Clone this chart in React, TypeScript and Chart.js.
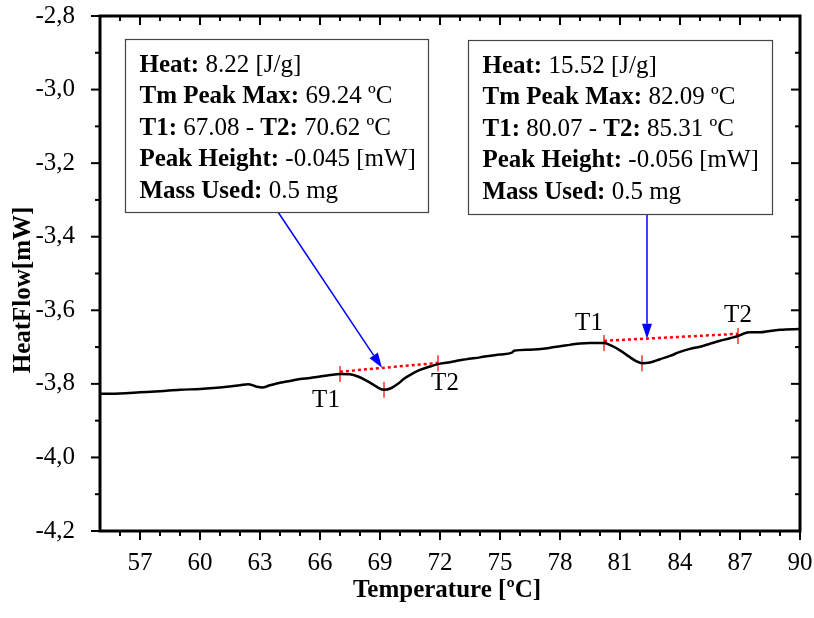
import React, { useEffect, useRef } from 'react';
import { Chart, registerables } from 'chart.js';

Chart.register(...registerables);

// ---------- data ----------
const temperature = [
  55.0, 56.0, 57.0, 58.0, 59.0, 60.0, 61.0, 62.0, 62.4, 62.8, 63.1, 63.5, 64.0, 64.5, 65.0, 65.5,
  66.0, 66.5, 67.0, 67.5, 67.9, 68.25, 68.6, 68.9, 69.2, 69.55, 69.9, 70.2, 70.6, 71.0, 71.5,
  72.0, 72.5, 73.0, 74.0, 75.0, 75.6, 75.7, 76.5, 77.5, 78.0, 78.5, 79.0, 79.5, 80.2, 80.6,
  81.0, 81.4, 81.8, 82.1, 82.5, 83.0, 83.5, 84.0, 84.5, 85.0, 85.5, 86.0, 86.5, 86.9, 87.2,
  87.5, 88.0, 88.5, 89.0, 90.0,
];
const heatFlow = [
  -3.827, -3.826, -3.823, -3.820, -3.816, -3.814, -3.810, -3.804, -3.801, -3.807, -3.810, -3.804,
  -3.797, -3.792, -3.787, -3.784, -3.780, -3.776, -3.773, -3.774, -3.780, -3.789, -3.800, -3.810,
  -3.816, -3.812, -3.800, -3.786, -3.773, -3.762, -3.753, -3.745, -3.741, -3.736, -3.728, -3.720,
  -3.715, -3.710, -3.707, -3.702, -3.698, -3.694, -3.690, -3.689, -3.689, -3.697, -3.709, -3.724,
  -3.738, -3.744, -3.742, -3.733, -3.724, -3.713, -3.705, -3.699, -3.691, -3.683, -3.676, -3.670,
  -3.663, -3.660, -3.660, -3.656, -3.653, -3.651,
];

const xTicks = [57, 60, 63, 66, 69, 72, 75, 78, 81, 84, 87, 90];
const yTicks = [-4.2, -4.0, -3.8, -3.6, -3.4, -3.2, -3.0, -2.8];

// peak markers (T1, peak, T2) on the curve
const markerT = [67.0, 69.2, 71.9, 80.2, 82.1, 86.9];
const markerHF = [-3.773, -3.816, -3.744, -3.689, -3.744, -3.670];

// integration baselines (T1 -> T2)
const baseline1T = [67.0, 71.9];
const baseline1HF = [-3.767, -3.743];
const baseline2T = [80.2, 86.9];
const baseline2HF = [-3.683, -3.664];

// arrow tips / starts (data coords)
const arrowTipT = [69.1, 82.35];
const arrowTipHF = [-3.7565, -3.6777];
const arrowStartT = [63.9, 82.35];

// annotation texts (segments alternate bold / normal)
const box1Lines = [
  ['Heat:', ' 8.22 [J/g]'],
  ['Tm Peak Max:', ' 69.24 ºC'],
  ['T1:', ' 67.08 - ', 'T2:', ' 70.62 ºC'],
  ['Peak Height:', ' -0.045 [mW]'],
  ['Mass Used:', ' 0.5 mg'],
];
const box2Lines = [
  ['Heat:', ' 15.52 [J/g]'],
  ['Tm Peak Max:', ' 82.09 ºC'],
  ['T1:', ' 80.07 - ', 'T2:', ' 85.31 ºC'],
  ['Peak Height:', ' -0.056 [mW]'],
  ['Mass Used:', ' 0.5 mg'],
];

// ---------- styles ----------
const FONT = '"Liberation Serif", "Times New Roman", serif';
const FS = 25;
const boxes = [
  { left: 56.25, top: -2.8625, w: 303, h: 173, lines: box1Lines },
  { left: 73.4, top: -2.8652, w: 304, h: 174, lines: box2Lines },
];
// T labels: [markerIndex, text, dx, dy]
const tLabels: [number, string, number, number][] = [
  [0, 'T1', -14, 27],
  [2, 'T2', 7, 20],
  [3, 'T1', -15, -20],
  [5, 'T2', 0, -21],
];

const decoPlugin = {
  id: 'deco',
  afterDraw(chart: any) {
    const { ctx, chartArea: ca } = chart;
    const x = chart.scales.x;
    const y = chart.scales.y;
    ctx.save();

    // ticks
    ctx.strokeStyle = '#000';
    ctx.lineWidth = 2;
    const major = 9;
    const minor = 5;
    const seg = (x1: number, y1: number, x2: number, y2: number) => {
      ctx.beginPath();
      ctx.moveTo(x1, y1);
      ctx.lineTo(x2, y2);
      ctx.stroke();
    };
    for (let t = 56; t <= 90; t++) {
      const px = x.getPixelForValue(t);
      const len = xTicks.includes(t) ? major : minor;
      seg(px, ca.bottom, px, ca.bottom + len);
      seg(px, ca.top, px, ca.top + len);
    }
    for (let k = -42; k <= -28; k++) {
      const py = y.getPixelForValue(k / 10);
      const len = k % 2 === 0 ? major : minor;
      seg(ca.left - len, py, ca.left, py);
      seg(ca.right - len, py, ca.right, py);
    }

    // frame
    ctx.lineWidth = 3;
    ctx.strokeRect(ca.left, ca.top, ca.right - ca.left, ca.bottom - ca.top);

    // arrows
    ctx.strokeStyle = '#0000ff';
    ctx.fillStyle = '#0000ff';
    ctx.lineWidth = 1.5;
    boxes.forEach((b, i) => {
      const sx = x.getPixelForValue(arrowStartT[i]);
      const sy = y.getPixelForValue(b.top) + b.h;
      const tx = x.getPixelForValue(arrowTipT[i]);
      const ty = y.getPixelForValue(arrowTipHF[i]);
      const ang = Math.atan2(ty - sy, tx - sx);
      const hl = 15;
      const hw = 5;
      const bx = tx - hl * Math.cos(ang);
      const by = ty - hl * Math.sin(ang);
      seg(sx, sy, bx, by);
      ctx.beginPath();
      ctx.moveTo(tx, ty);
      ctx.lineTo(bx + hw * Math.sin(ang), by - hw * Math.cos(ang));
      ctx.lineTo(bx - hw * Math.sin(ang), by + hw * Math.cos(ang));
      ctx.closePath();
      ctx.fill();
    });

    // boxes
    boxes.forEach((b) => {
      const bx = Math.round(x.getPixelForValue(b.left)) + 0.5;
      const by = Math.round(y.getPixelForValue(b.top)) + 0.5;
      ctx.fillStyle = '#fff';
      ctx.fillRect(bx, by, b.w, b.h);
      ctx.strokeStyle = '#444';
      ctx.lineWidth = 1.2;
      ctx.strokeRect(bx, by, b.w, b.h);
      ctx.fillStyle = '#000';
      ctx.textBaseline = 'alphabetic';
      ctx.textAlign = 'left';
      b.lines.forEach((segs, li) => {
        let cx = bx + 14;
        const cy = by + 32 + li * 31.6;
        segs.forEach((s, si) => {
          ctx.font = (si % 2 === 0 ? 'bold ' : '') + FS + 'px ' + FONT;
          ctx.fillText(s, cx, cy);
          cx += ctx.measureText(s).width;
        });
      });
    });

    // T labels
    ctx.fillStyle = '#000';
    ctx.font = FS + 'px ' + FONT;
    ctx.textAlign = 'center';
    ctx.textBaseline = 'middle';
    tLabels.forEach(([mi, txt, dx, dy]) => {
      const px = x.getPixelForValue(markerT[mi]);
      const py = y.getPixelForValue(markerHF[mi]);
      ctx.fillText(txt, px + dx, py + dy);
    });

    // axis titles
    ctx.font = 'bold ' + FS + 'px ' + FONT;
    ctx.textAlign = 'center';
    ctx.textBaseline = 'alphabetic';
    ctx.fillText('Temperature [ºC]', 447, 597);
    ctx.save();
    ctx.translate(30, 290);
    ctx.rotate(-Math.PI / 2);
    ctx.fillText('HeatFlow[mW]', 0, 0);
    ctx.restore();

    ctx.restore();
  },
};

export default function App() {
  const ref = useRef<HTMLCanvasElement | null>(null);
  useEffect(() => {
    if (!ref.current) return;
    const chart = new Chart(ref.current, {
      type: 'scatter',
      data: {
        datasets: [
          {
            data: temperature.map((t, i) => ({ x: t, y: heatFlow[i] })),
            showLine: true,
            borderColor: '#000',
            borderWidth: 2.5,
            pointRadius: 0,
            cubicInterpolationMode: 'monotone',
          },
          {
            data: baseline1T.map((t, i) => ({ x: t, y: baseline1HF[i] })),
            showLine: true,
            borderColor: '#ff0000',
            borderWidth: 2.5,
            borderDash: [3, 3],
            pointRadius: 0,
          },
          {
            data: baseline2T.map((t, i) => ({ x: t, y: baseline2HF[i] })),
            showLine: true,
            borderColor: '#ff0000',
            borderWidth: 2.5,
            borderDash: [3, 3],
            pointRadius: 0,
          },
          {
            data: markerT.map((t, i) => ({ x: t, y: markerHF[i] })),
            showLine: false,
            pointStyle: 'line',
            rotation: 90,
            radius: 8,
            borderColor: '#ff2020',
            borderWidth: 1.4,
          },
        ],
      } as any,
      options: {
        animation: false,
        responsive: false,
        events: [],
        layout: { padding: { top: 16, right: 14, left: 0, bottom: 0 } },
        plugins: { legend: { display: false }, tooltip: { enabled: false } },
        scales: {
          x: {
            type: 'linear',
            min: 55,
            max: 90,
            grid: { display: false },
            border: { display: false },
            afterFit: (s: any) => {
              s.height = 87;
              s.paddingLeft = 0;
              s.paddingRight = 0;
              s.paddingTop = 0;
              s.paddingBottom = 0;
            },
            afterBuildTicks: (s: any) => { s.ticks = xTicks.map((v) => ({ value: v })); },
            ticks: {
              autoSkip: false,
              maxRotation: 0,
              padding: 9,
              color: '#000',
              font: { family: FONT, size: FS },
              callback: (v: any) => String(v),
            },
          },
          y: {
            type: 'linear',
            min: -4.2,
            max: -2.8,
            grid: { display: false },
            border: { display: false },
            afterFit: (s: any) => {
              s.width = 100;
              s.paddingLeft = 0;
              s.paddingRight = 0;
              s.paddingTop = 0;
              s.paddingBottom = 0;
            },
            afterBuildTicks: (s: any) => { s.ticks = yTicks.map((v) => ({ value: v })); },
            ticks: {
              autoSkip: false,
              padding: 17,
              color: '#000',
              font: { family: FONT, size: FS },
              callback: (v: any) => Number(v).toFixed(1).replace('.', ','),
            },
          },
        },
      } as any,
      plugins: [decoPlugin],
    });
    return () => chart.destroy();
  }, []);
  return (
    <div style={{ position: 'absolute', left: 0, top: 0, width: 814, height: 618, background: '#fff' }}>
      <canvas ref={ref} width={814} height={618} />
    </div>
  );
}
